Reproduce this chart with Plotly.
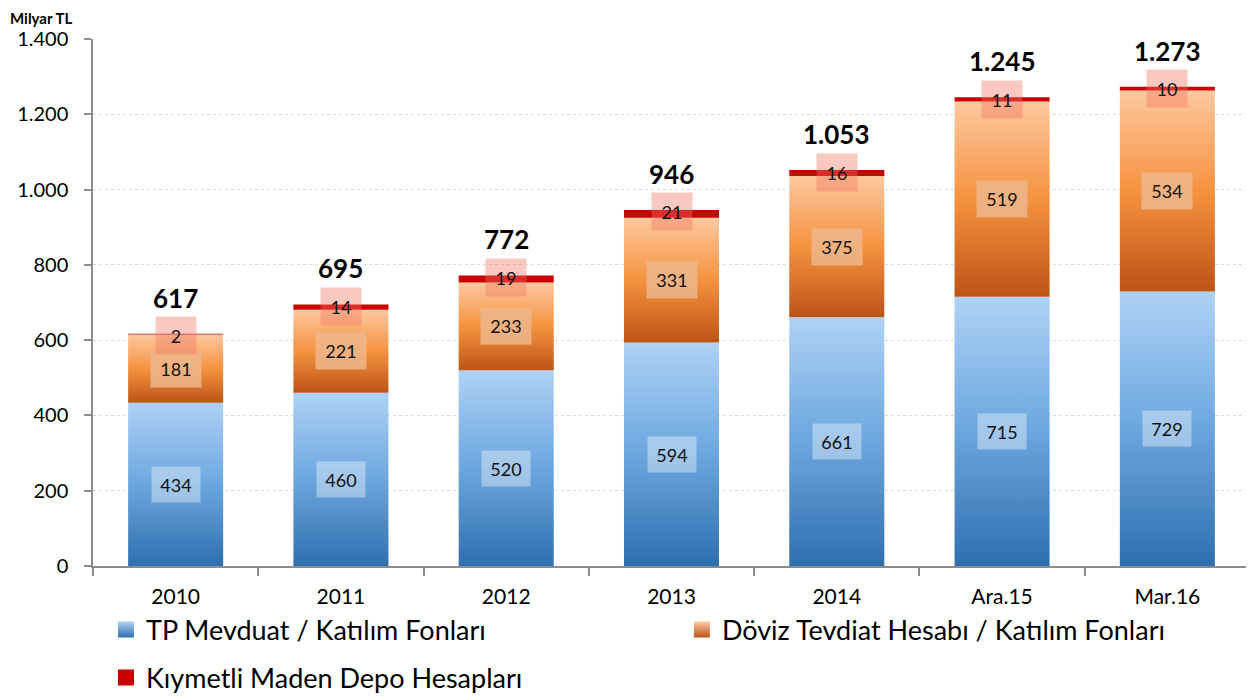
import plotly.graph_objects as go

categories = ["2010", "2011", "2012", "2013", "2014", "Ara.15", "Mar.16"]
tp_mevduat = [434, 460, 520, 594, 661, 715, 729]
doviz = [181, 221, 233, 331, 375, 519, 534]
kiymetli = [2, 14, 19, 21, 16, 11, 10]
totals = [617, 695, 772, 946, 1053, 1245, 1273]

names = ["TP Mevduat / Katılım Fonları", "Döviz Tevdiat Hesabı / Katılım Fonları",
         "Kıymetli Maden Depo Hesapları"]

FONT = "Lato"
BAR_W = 0.575
blue_scale = [[0, "#2F6FAE"], [0.5, "#6CA6DF"], [1, "#AED2F5"]]
orange_scale = [[0, "#BC5416"], [0.5, "#F5923F"], [1, "#FDC8A0"]]
red = "#C80000"

fig = go.Figure()


def seg(i, y0, y1, **kw):
    xs = [i - BAR_W / 2, i + BAR_W / 2, i + BAR_W / 2, i - BAR_W / 2, i - BAR_W / 2]
    ys = [y0, y0, y1, y1, y0]
    fig.add_trace(go.Scatter(x=xs, y=ys, mode="lines", fill="toself",
                             line=dict(width=0), hoverinfo="skip",
                             showlegend=False, **kw))


for i in range(len(categories)):
    b = tp_mevduat[i]
    o = b + doviz[i]
    r = o + kiymetli[i]
    seg(i, 0, b, fillgradient=dict(type="vertical", colorscale=blue_scale))
    seg(i, b, o, fillgradient=dict(type="vertical", colorscale=orange_scale))
    seg(i, o, r, fillcolor=red)

# legend entries (each in its own legend box for free placement)
fig.add_trace(go.Scatter(x=[None], y=[None], mode="markers", name=names[0],
                         marker=dict(symbol="square", size=18, color="#AED2F5",
                                     gradient=dict(type="vertical", color="#2F6FAE")),
                         legend="legend"))
fig.add_trace(go.Scatter(x=[None], y=[None], mode="markers", name=names[1],
                         marker=dict(symbol="square", size=18, color="#FDC8A0",
                                     gradient=dict(type="vertical", color="#BC5416")),
                         legend="legend2"))
fig.add_trace(go.Scatter(x=[None], y=[None], mode="markers", name=names[2],
                         marker=dict(symbol="square", size=18, color=red),
                         legend="legend3"))

annotations = []
for i in range(len(categories)):
    b = tp_mevduat[i]
    o = b + doviz[i]
    r = o + kiymetli[i]
    annotations.append(dict(x=i, y=b / 2, text=str(tp_mevduat[i]), showarrow=False,
                            font=dict(family=FONT, size=18, color="#111"),
                            bgcolor="rgba(255,255,255,0.38)", width=46, height=33))
    annotations.append(dict(x=i, y=b + doviz[i] / 2, text=str(doviz[i]), showarrow=False,
                            font=dict(family=FONT, size=18, color="#111"),
                            bgcolor="rgba(238,182,140,0.85)", width=48, height=34))
    annotations.append(dict(x=i, y=r, yshift=-2, text=str(kiymetli[i]), showarrow=False,
                            font=dict(family=FONT, size=18, color="#111"),
                            bgcolor="rgba(240,120,100,0.40)", width=38, height=35))
    annotations.append(dict(x=i, y=r, yshift=36, text="<b>" + f"{totals[i]:,}".replace(",", ".") + "</b>",
                            showarrow=False, font=dict(family=FONT, size=26, color="#000")))

annotations.append(dict(xref="paper", yref="paper", x=-84 / 1157, y=1 + 31 / 527,
                        xanchor="left", yanchor="top", text="<b>Milyar TL</b>",
                        showarrow=False, borderpad=0,
                        font=dict(family=FONT, size=15, color="#000")))

leg_font = dict(family=FONT, size=27, color="#000")

# the page body adds an 8px offset, so the figure is sized/margined to compensate
fig.update_layout(
    width=1246, height=688,
    margin=dict(l=85, r=4, t=31, b=130, autoexpand=False),
    paper_bgcolor="white", plot_bgcolor="white",
    separators=",.",
    font=dict(family=FONT, color="#000"),
    annotations=annotations,
    xaxis=dict(range=[-0.5, 6.5], tickvals=list(range(len(categories))), ticktext=categories,
               ticks="", showgrid=False, zeroline=False, showline=True, linecolor="#8C8C8C",
               linewidth=1.5, tickfont=dict(family=FONT, size=21, color="#000"),
               ticklabelstandoff=11,
               minor=dict(tickvals=[k - 0.5 for k in range(len(categories) + 1)], ticks="outside",
                          ticklen=8, tickcolor="#8C8C8C", tickwidth=1.5, showgrid=False)),
    yaxis=dict(range=[0, 1400], tickvals=list(range(0, 1401, 200)), tickformat=",d",
               ticks="outside", ticklen=7, tickcolor="#8C8C8C", tickwidth=1.5,
               showline=True, linecolor="#8C8C8C", linewidth=1.5, zeroline=False,
               showgrid=True, gridcolor="#D9D9D9", griddash="dot", gridwidth=1,
               ticklabelstandoff=12,
               tickfont=dict(family=FONT, size=20, color="#000")),
    legend=dict(orientation="h", x=0.0112, xanchor="left", y=-0.1214, yanchor="middle",
                font=leg_font, bgcolor="rgba(0,0,0,0)"),
    legend2=dict(orientation="h", x=0.509, xanchor="left", y=-0.1214, yanchor="middle",
                 font=leg_font, bgcolor="rgba(0,0,0,0)"),
    legend3=dict(orientation="h", x=0.0112, xanchor="left", y=-0.2125, yanchor="middle",
                 font=leg_font, bgcolor="rgba(0,0,0,0)"),
)

fig.write_html("out.html")
